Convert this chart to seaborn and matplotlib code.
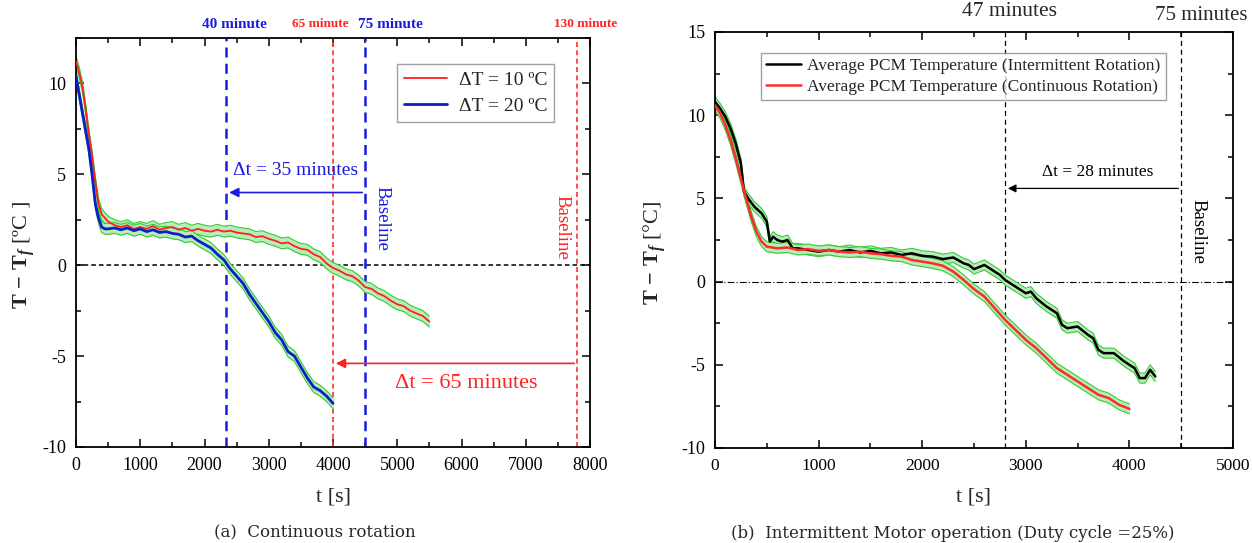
import numpy as np
import pandas as pd
import matplotlib
matplotlib.use("Agg")
import matplotlib.pyplot as plt
from matplotlib.ticker import MultipleLocator
import seaborn as sns

# ---- panel (a): continuous rotation ----
t_a10 = [0, 50, 100, 150, 200, 250, 300, 350, 400, 450, 500, 600, 700, 800, 900, 1000,
         1100, 1200, 1300, 1400, 1500, 1600, 1700, 1800, 1900, 2000, 2100, 2200, 2300,
         2400, 2500, 2600, 2700, 2800, 2900, 3000, 3100, 3200, 3300, 3400, 3500, 3600,
         3700, 3800, 3900, 4000, 4100, 4200, 4300, 4400, 4500, 4600, 4700, 4800, 4900,
         5000, 5100, 5200, 5300, 5400, 5500]
T_a10 = [11.2, 10.6, 9.8, 8.6, 7.2, 6.0, 4.6, 3.4, 2.8, 2.6, 2.4, 2.2, 2.1, 2.2, 2.0, 2.1,
         2.0, 2.15, 1.95, 2.05, 2.1, 1.95, 2.05, 1.9, 2.0, 1.9, 1.85, 1.95, 1.85,
         1.9, 1.8, 1.75, 1.7, 1.55, 1.6, 1.45, 1.35, 1.2, 1.25, 1.05, 0.9, 0.85,
         0.6, 0.45, 0.1, -0.15, -0.3, -0.5, -0.6, -0.85, -1.2, -1.3, -1.55, -1.7, -1.95,
         -2.15, -2.25, -2.5, -2.65, -2.8, -3.1]

t_a20 = [0, 50, 100, 150, 200, 250, 300, 350, 400, 450, 500, 600, 700, 800, 900, 1000,
         1100, 1200, 1300, 1400, 1500, 1600, 1700, 1800, 1900, 2000, 2100, 2200, 2300,
         2400, 2500, 2600, 2700, 2800, 2900, 3000, 3100, 3200, 3300, 3400, 3500, 3600,
         3700, 3800, 3900, 4000]
T_a20 = [10.4, 9.4, 8.4, 7.4, 6.4, 5.0, 3.4, 2.6, 2.1, 2.0, 2.0, 2.05, 1.95, 2.05, 1.9, 2.0,
         1.85, 1.95, 1.8, 1.85, 1.75, 1.7, 1.55, 1.6, 1.35, 1.15, 0.95, 0.6, 0.3,
         -0.2, -0.6, -1.0, -1.6, -2.1, -2.6, -3.1, -3.7, -4.1, -4.75, -5.0, -5.6, -6.2,
         -6.7, -6.9, -7.2, -7.6]

# ---- panel (b): intermittent motor operation ----
t_int = [0, 50, 100, 150, 200, 250, 280, 320, 380, 450, 500, 530, 560, 600, 650, 700,
         750, 800, 900, 1000, 1100, 1200, 1300, 1400, 1500, 1600, 1700, 1800, 1900, 2000,
         2100, 2200, 2300, 2400, 2450, 2500, 2600, 2700, 2750, 2800, 2900, 3000, 3050,
         3100, 3200, 3300, 3350, 3400, 3500, 3600, 3650, 3700, 3750, 3850, 3950, 4050,
         4100, 4150, 4200, 4250]
T_int = [10.8, 10.4, 9.9, 9.2, 8.3, 7.1, 5.4, 5.0, 4.5, 4.1, 3.6, 2.4, 2.7, 2.5, 2.4, 2.5,
         2.0, 2.0, 1.9, 1.8, 1.9, 1.8, 1.9, 1.75, 1.85, 1.7, 1.75, 1.6, 1.7, 1.55,
         1.5, 1.35, 1.45, 1.1, 1.0, 0.75, 1.0, 0.6, 0.4, 0.1, -0.3, -0.7, -0.6,
         -1.0, -1.5, -1.9, -2.6, -2.8, -2.7, -3.2, -3.4, -4.1, -4.3, -4.3, -4.8, -5.2,
         -5.8, -5.8, -5.3, -5.7]

t_con = [0, 50, 100, 150, 200, 250, 300, 350, 400, 450, 500, 600, 700, 800, 900, 1000,
         1100, 1200, 1300, 1400, 1500, 1600, 1700, 1800, 1900, 2000, 2100, 2200, 2300,
         2400, 2500, 2600, 2700, 2800, 2900, 3000, 3100, 3200, 3300, 3400, 3500, 3600,
         3700, 3800, 3900, 4000]
T_con = [10.6, 10.1, 9.4, 8.5, 7.4, 6.2, 5.0, 3.9, 3.0, 2.4, 2.1, 2.0, 2.05, 1.9, 1.95, 1.85,
         1.9, 1.8, 1.75, 1.8, 1.7, 1.65, 1.55, 1.5, 1.3, 1.2, 1.1, 0.95, 0.6,
         0.1, -0.45, -0.9, -1.6, -2.3, -2.9, -3.5, -4.0, -4.6, -5.2, -5.6, -6.0, -6.4,
         -6.8, -7.0, -7.4, -7.65]

band = 0.3

sns.set_style("ticks")
plt.rcParams['font.family'] = ['Liberation Serif', 'DejaVu Serif']
plt.rcParams['axes.unicode_minus'] = False
plt.rcParams['mathtext.fontset'] = 'custom'
plt.rcParams['mathtext.rm'] = 'Liberation Serif'
plt.rcParams['mathtext.it'] = 'Liberation Serif:italic'
plt.rcParams['mathtext.bf'] = 'Liberation Serif:bold'
plt.rcParams['mathtext.bfit'] = 'Liberation Serif:italic:bold'

fig = plt.figure(figsize=(12.52, 5.43), dpi=100)
ax1 = fig.add_axes([76 / 1252, 1 - 447 / 543, 514 / 1252, 409 / 543])
ax2 = fig.add_axes([715 / 1252, 1 - 448 / 543, 518 / 1252, 416 / 543])


def green_band(ax, t, v):
    v = np.array(v)
    ax.fill_between(t, v - band, v + band, color="#b8ecb8", lw=0, zorder=2)
    ax.plot(t, v - band, color="#33cc33", lw=0.8, zorder=2)
    ax.plot(t, v + band, color="#33cc33", lw=0.8, zorder=2)


def style_axes(ax):
    ax.tick_params(which="both", direction="in", top=True, right=True, labelsize=13,
                   colors="black", pad=7)
    ax.tick_params(which="major", length=6, width=1.1)
    ax.tick_params(which="minor", length=3.5, width=1.1)
    ax.xaxis.set_major_locator(MultipleLocator(1000))
    ax.xaxis.set_minor_locator(MultipleLocator(500))
    ax.yaxis.set_major_locator(MultipleLocator(5))
    ax.yaxis.set_minor_locator(MultipleLocator(2.5))
    for s in ax.spines.values():
        s.set_linewidth(1.3)
        s.set_color("black")


# ---- panel (a) ----
green_band(ax1, t_a10, T_a10)
green_band(ax1, t_a20, T_a20)
sns.lineplot(x=t_a10, y=T_a10, ax=ax1, color="#ff2020", lw=1.3, label="ΔT = 10 ºC", zorder=3)
sns.lineplot(x=t_a20, y=T_a20, ax=ax1, color="#0a1fc8", lw=2.0, label="ΔT = 20 ºC", zorder=3)
ax1.axhline(0, color="black", ls=(0, (3, 2)), lw=1.1, zorder=1)
for xv in [2340, 4500]:
    ax1.axvline(xv, color="#1a1ae0", ls=(0, (4, 2.5)), lw=1.8, zorder=1)
for xv in [4000, 7800]:
    ax1.axvline(xv, color="#ff3030", ls=(0, (3, 2)), lw=1.2, zorder=1)
ax1.annotate("", xy=(2340, 4.0), xytext=(4500, 4.0),
             arrowprops=dict(arrowstyle="-|>", color="#1a1ae0", lw=1.2, mutation_scale=14))
ax1.text(3425, 5.2, "Δt = 35 minutes", color="#1a1ae0", fontsize=14, ha="center", va="center")
ax1.annotate("", xy=(4000, -5.4), xytext=(7800, -5.4),
             arrowprops=dict(arrowstyle="-|>", color="#ff2020", lw=1.2, mutation_scale=14))
ax1.text(6070, -6.5, "Δt = 65 minutes", color="#ff2020", fontsize=16, ha="center", va="center")
ax1.text(4760, 2.6, "Baseline", color="#1a1ae0", fontsize=13.5, rotation=-90, ha="center", va="center")
ax1.text(7565, 2.1, "Baseline", color="#ff2020", fontsize=13.5, rotation=-90, ha="center", va="center")
ax1.set_xlim(0, 8000)
ax1.set_ylim(-10, 12.5)
style_axes(ax1)
ax1.set_xlabel("t [s]", fontsize=16, labelpad=10)
ax1.set_ylabel(r"$\mathbf{T\,-\,T}_{\mathbfit{f}}$ [ºC ]", fontsize=16)
ax1.yaxis.set_label_coords(-0.075, 0.47)
leg1 = ax1.legend(loc="upper right", bbox_to_anchor=(0.93, 0.936), borderaxespad=0, fontsize=14,
                  frameon=True, fancybox=False, edgecolor="#888888", handlelength=2.2,
                  borderpad=0.35, labelspacing=0.45, handletextpad=0.6)
leg1.get_frame().set_linewidth(1.0)

for xpos, txt, col, fs in [(234, "40 minute", "#1a1ae0", 11), (320, "65 minute", "#ff2020", 9.5),
                           (390, "75 minute", "#1a1ae0", 11), (586, "130 minute", "#ff2020", 9.5)]:
    fig.text(xpos / 1252, 1 - 24 / 543, txt, color=col, fontsize=fs, fontweight="bold",
             ha="center", va="center")

# ---- panel (b) ----
green_band(ax2, t_int, T_int)
green_band(ax2, t_con, T_con)
sns.lineplot(x=t_int, y=T_int, ax=ax2, color="black", lw=1.8,
             label="Average PCM Temperature (Intermittent Rotation)", zorder=3)
sns.lineplot(x=t_con, y=T_con, ax=ax2, color="#ff2a2a", lw=1.8,
             label="Average PCM Temperature (Continuous Rotation)", zorder=3)
ax2.axhline(0, color="black", ls=(0, (6, 2, 1, 2)), lw=0.8, zorder=1)
for xv in [2800, 4500]:
    ax2.axvline(xv, color="black", ls=(0, (4, 3)), lw=0.9, zorder=1)
ax2.annotate("", xy=(2800, 5.6), xytext=(4500, 5.6),
             arrowprops=dict(arrowstyle="-|>", color="black", lw=0.9, mutation_scale=12))
ax2.text(3690, 6.6, "Δt = 28 minutes", color="black", fontsize=12.5, ha="center", va="center")
ax2.text(4665, 3.0, "Baseline", color="black", fontsize=13.5, rotation=-90, ha="center", va="center")
ax2.set_xlim(0, 5000)
ax2.set_ylim(-10, 15)
style_axes(ax2)
ax2.tick_params(axis="x", labelsize=12.5)
ax2.set_xlabel("t [s]", fontsize=16, labelpad=10)
ax2.set_ylabel(r"$\mathbf{T\,-\,T}_{\mathbfit{f}}$ [°C]", fontsize=16)
ax2.yaxis.set_label_coords(-0.09, 0.47)
leg2 = ax2.legend(loc="upper left", bbox_to_anchor=(0.088, 0.95), borderaxespad=0, fontsize=12.5,
                  frameon=True, fancybox=False, edgecolor="#888888", handlelength=2.0,
                  borderpad=0.3, labelspacing=0.25, handletextpad=0.4)
leg2.get_frame().set_linewidth(1.0)

fig.text(1010 / 1252, 1 - 12 / 543, "47 minutes", fontsize=15.5, ha="center", va="center")
fig.text(1201 / 1252, 1 - 16 / 543, "75 minutes", fontsize=15, ha="center", va="center")

fig.text(315 / 1252, 1 - 533 / 543, "(a)  Continuous rotation", family="DejaVu Serif",
         fontsize=12, ha="center", va="center")
fig.text(953 / 1252, 1 - 533 / 543, "(b)  Intermittent Motor operation (Duty cycle =25%)",
         family="DejaVu Serif", fontsize=12, ha="center", va="center")

fig.savefig("out.png", dpi=100)
